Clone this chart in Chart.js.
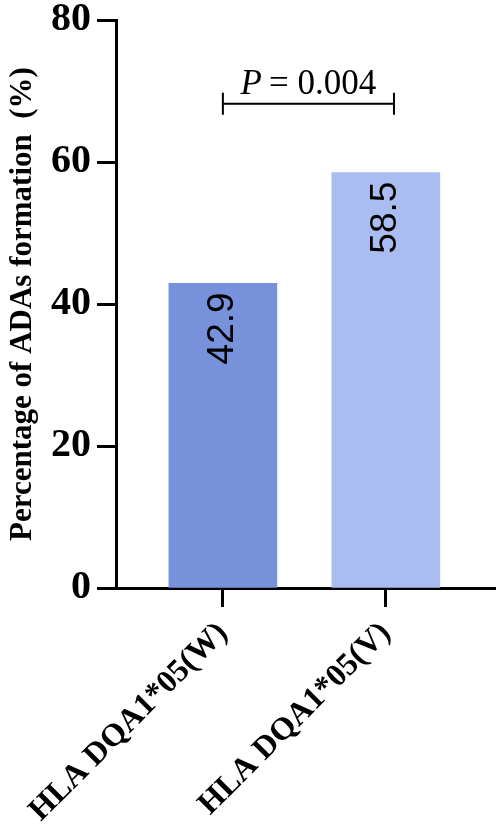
<!DOCTYPE html>
<html>
<head>
<meta charset="utf-8">
<script src="https://cdn.jsdelivr.net/npm/chart.js@4"></script>
<style>
  html, body { margin: 0; padding: 0; background: #fff; }
</style>
</head>
<body>
<canvas id="adaChart" width="500" height="829"></canvas>
<script>
// ---- data ----
const categories = ["HLA DQA1*05(W)", "HLA DQA1*05(V)"];
const categoryIndex = [0, 1];
const adaPercent = [42.9, 58.5];
const yTicks = [0, 20, 40, 60, 80];
const pLabel = "= 0.004";

const barColors = ["#7891db", "#a9bdf1"];
const SERIF = '"Liberation Serif", "Times New Roman", serif';
const SANS = '"Liberation Sans", Arial, sans-serif';

// significance bracket, in data units
const bracket = { from: 0, to: 1.05, at: 68.2 };

// ---- labels drawn on top of bars + P value bracket ----
const annotate = {
    id: "annotate",
    afterDatasetsDraw(chart) {
        const ctx = chart.ctx;
        const xs = chart.scales.x;
        const ys = chart.scales.y;
        const meta = chart.getDatasetMeta(0);

        ctx.save();
        ctx.fillStyle = "#000";
        ctx.font = "37px " + SANS;
        ctx.textAlign = "right";
        ctx.textBaseline = "middle";
        meta.data.forEach((bar, i) => {
            ctx.save();
            ctx.translate(bar.x, bar.y + 9);
            ctx.rotate(-Math.PI / 2);
            ctx.fillText(adaPercent[i].toFixed(1), 0, 0);
            ctx.restore();
        });

        const x0 = xs.getPixelForValue(bracket.from);
        const x1 = xs.getPixelForValue(bracket.to);
        const yb = ys.getPixelForValue(bracket.at);
        ctx.strokeStyle = "#000";
        ctx.lineWidth = 2;
        ctx.beginPath();
        ctx.moveTo(x0, yb); ctx.lineTo(x1, yb);
        ctx.moveTo(x0, yb - 11); ctx.lineTo(x0, yb + 11);
        ctx.moveTo(x1, yb - 11); ctx.lineTo(x1, yb + 11);
        ctx.stroke();

        // "P" italic + rest upright
        ctx.textAlign = "left";
        ctx.textBaseline = "alphabetic";
        ctx.font = "italic 35px " + SERIF;
        const wP = ctx.measureText("P").width;
        ctx.font = "35px " + SERIF;
        const wRest = ctx.measureText(pLabel).width;
        const gap = 7;
        let tx = (x0 + x1) / 2 - (wP + gap + wRest) / 2;
        ctx.font = "italic 35px " + SERIF;
        ctx.fillText("P", tx, yb - 10);
        ctx.font = "35px " + SERIF;
        ctx.fillText(pLabel, tx + wP + gap, yb - 10);
        ctx.restore();
    }
};

new Chart(document.getElementById("adaChart"), {
    type: "bar",
    data: {
        datasets: [{
            data: categoryIndex.map((x, i) => ({ x: x, y: adaPercent[i] })),
            backgroundColor: barColors,
            borderWidth: 0,
            barThickness: 108
        }]
    },
    options: {
        responsive: false,
        animation: false,
        devicePixelRatio: 1,
        layout: { padding: { top: 20, right: 5, left: 0, bottom: 0 } },
        plugins: {
            legend: { display: false },
            tooltip: { enabled: false }
        },
        scales: {
            x: {
                type: "linear",
                offset: false,
                min: -0.656,
                max: 1.67,
                afterBuildTicks: s => { s.ticks = categoryIndex.map(v => ({ value: v })); },
                afterFit: s => { s.height = 241; s.paddingLeft = 0; s.paddingRight = 0; },
                ticks: {
                    callback: v => categories[v],
                    autoSkip: false,
                    minRotation: 45,
                    maxRotation: 45,
                    padding: 10,
                    color: "#000",
                    font: { family: SERIF, weight: "bold", size: 32, lineHeight: 1 }
                },
                grid: {
                    offset: false,
                    drawOnChartArea: false,
                    tickLength: 19,
                    tickWidth: 3,
                    tickColor: "#000"
                },
                border: { color: "#000", width: 3 }
            },
            y: {
                min: 0,
                max: 80,
                afterBuildTicks: s => { s.ticks = yTicks.map(v => ({ value: v })); },
                afterFit: s => { s.width = 116; s.paddingTop = 0; s.paddingBottom = 0; },
                ticks: {
                    padding: 6,
                    color: "#000",
                    font: { family: SERIF, weight: "bold", size: 40, lineHeight: 1 }
                },
                grid: {
                    drawOnChartArea: false,
                    tickLength: 19,
                    tickWidth: 3,
                    tickColor: "#000"
                },
                border: { color: "#000", width: 3 },
                title: {
                    display: true,
                    text: "Percentage of ADAs formation  (%)",
                    color: "#000",
                    padding: { top: 4, bottom: 0 },
                    font: { family: SERIF, weight: "bold", size: 31 }
                }
            }
        }
    },
    plugins: [annotate]
});
</script>
</body>
</html>
